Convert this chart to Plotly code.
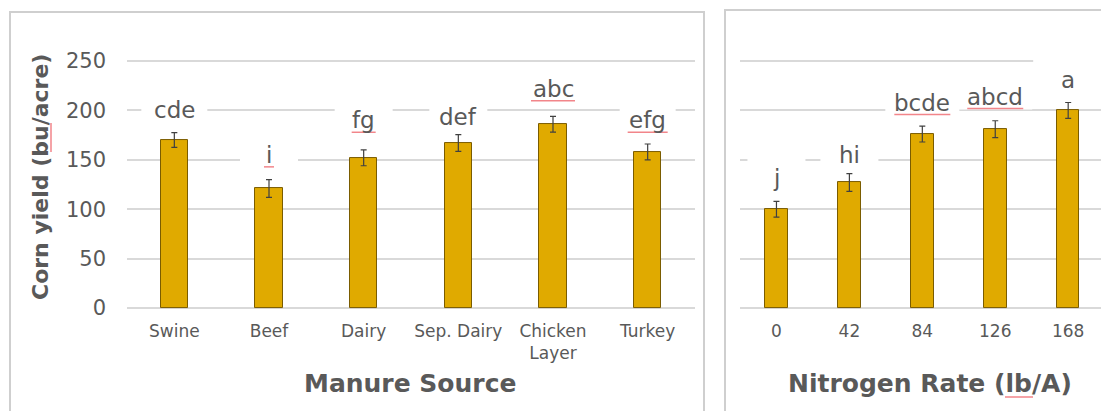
import plotly.graph_objects as go

# ---- data ----
manure_sources = ["Swine", "Beef", "Dairy", "Sep. Dairy", "Chicken<br>Layer", "Turkey"]
manure_yield = [170, 121, 152, 167, 186, 158]
manure_err = [7.5, 9, 8, 8.5, 8, 8]
manure_letters = ["cde", "i", "fg", "def", "abc", "efg"]

n_rates = ["0", "42", "84", "126", "168"]
n_yield = [100, 127, 176, 181, 200]
n_err = [8, 9, 8, 8.5, 8]
n_letters = ["j", "hi", "bcde", "abcd", "a"]

y_ticks = [0, 50, 100, 150, 200, 250]

# ---- letter placement (y in axis units) and white mask boxes (px) ----
manure_label_y = [200, 155, 190, 193, 222, 190]
manure_mask_w = [66, 58, 58, 58, 60, 56]
manure_mask_h = [26, 26, 26, 26, 26, 26]
n_label_y = [132, 155, 208, 214, 231]
n_mask_w = [58, 58, 74, 74, 70]
n_mask_h = [48, 26, 26, 26, 48]

W, H = 1101, 411
FONT = "DejaVu Sans, Verdana, sans-serif"
GREY = "#595959"
GRID = "#d9d9d9"
BAR = "#E0AA00"
BAR_EDGE = "#7a5c00"


def px_x(p):
    return p / W


def px_y(p):
    return 1 - p / H


fig = go.Figure()

fig.add_trace(go.Bar(
    x=list(range(len(manure_sources))), y=manure_yield,
    marker=dict(color=BAR, line=dict(color=BAR_EDGE, width=1)),
    error_y=dict(type="data", array=manure_err, color="#404040", thickness=1.2, width=3),
    width=0.29, xaxis="x", yaxis="y", showlegend=False,
))
fig.add_trace(go.Bar(
    x=list(range(len(n_rates))), y=n_yield,
    marker=dict(color=BAR, line=dict(color=BAR_EDGE, width=1)),
    error_y=dict(type="data", array=n_err, color="#404040", thickness=1.2, width=3),
    width=0.31, xaxis="x2", yaxis="y2", showlegend=False,
))

# y scale: 0 at 308 px, 250 at 61 px; range padded so the edge gridlines are drawn
Y_LO, Y_HI = -5, 255
PX_PER_UNIT = (308 - 61) / 250
y_dom = [px_y(308 - Y_LO * PX_PER_UNIT), px_y(308 - Y_HI * PX_PER_UNIT)]
common_y = dict(range=[Y_LO, Y_HI], tickvals=y_ticks, showgrid=True, gridcolor=GRID,
                gridwidth=1.5, zeroline=False, showline=False, fixedrange=True,
                automargin=False)
cat_font = dict(size=17, color=GREY)

fig.update_layout(
    width=W, height=H,
    margin=dict(l=0, r=0, t=0, b=0),
    paper_bgcolor="white", plot_bgcolor="white",
    font=dict(family=FONT, color=GREY),
    bargap=0,
    xaxis=dict(domain=[px_x(127), px_x(695)], range=[-0.5, 5.5],
               tickvals=list(range(len(manure_sources))), ticktext=manure_sources,
               tickfont=cat_font, showgrid=False, zeroline=False, automargin=False,
               showline=False, ticks="", ticklabelstandoff=6),
    yaxis=dict(domain=y_dom, anchor="x", tickfont=dict(size=21, color=GREY),
               ticklabelstandoff=20, **common_y),
    xaxis2=dict(domain=[px_x(740), 1], range=[-0.5, 4.45],
                tickvals=list(range(len(n_rates))), ticktext=n_rates,
                tickfont=cat_font, showgrid=False, zeroline=False, automargin=False,
                showline=False, ticks="", ticklabelstandoff=6, anchor="y2"),
    yaxis2=dict(domain=y_dom, anchor="x2", showticklabels=False, **common_y),
)

annotations = []
shapes = []


def add_letters(letters, ys, widths, heights, xr, yr):
    for i, (t, yv, w, h) in enumerate(zip(letters, ys, widths, heights)):
        # white box hiding the gridlines behind the letter, drawn under the bars
        shapes.append(dict(type="rect", xref=xr, yref=yr,
                           xsizemode="pixel", xanchor=i, x0=-w / 2, x1=w / 2,
                           ysizemode="pixel", yanchor=yv, y0=-h / 2, y1=h / 2,
                           fillcolor="white", line=dict(width=0), layer="between"))
        annotations.append(dict(x=i, y=yv, xref=xr, yref=yr, text=t, showarrow=False,
                                font=dict(size=23, color=GREY),
                                xanchor="center", yanchor="middle"))


add_letters(manure_letters, manure_label_y, manure_mask_w, manure_mask_h, "x", "y")
add_letters(n_letters, n_label_y, n_mask_w, n_mask_h, "x2", "y2")

# axis titles
title_common = dict(xref="paper", yref="paper", showarrow=False,
                    xanchor="center", yanchor="middle")
annotations.append(dict(x=px_x(40), y=px_y(177), text="<b>Corn yield (bu/acre)</b>",
                        textangle=-90, font=dict(size=22, color=GREY), **title_common))
annotations.append(dict(x=px_x(410), y=px_y(383), text="<b>Manure Source</b>",
                        font=dict(size=25, color=GREY), **title_common))
annotations.append(dict(x=px_x(930), y=px_y(383), text="<b>Nitrogen Rate (lb/A)</b>",
                        font=dict(size=25, color=GREY), **title_common))

# panel frames
shapes.append(dict(type="rect", xref="paper", yref="paper",
                   x0=px_x(10), x1=px_x(704), y0=-0.05, y1=px_y(12),
                   line=dict(color="#cfcfcf", width=2), fillcolor="rgba(0,0,0,0)",
                   layer="below"))
shapes.append(dict(type="rect", xref="paper", yref="paper",
                   x0=px_x(725), x1=1.05, y0=-0.05, y1=px_y(10),
                   line=dict(color="#cfcfcf", width=2), fillcolor="rgba(0,0,0,0)",
                   layer="below"))

# red spell-check underlines
SQ = dict(color="#f2858a", width=1.5)
squiggles = [("x", "y", 1, 155, 5), ("x", "y", 2, 190, 12), ("x", "y", 4, 222, 22),
             ("x", "y", 5, 190, 20), ("x2", "y2", 2, 208, 28), ("x2", "y2", 3, 214, 28)]
for xr, yr, xi, yv, half in squiggles:
    shapes.append(dict(type="line", xref=xr, yref=yr, xsizemode="pixel", xanchor=xi,
                       x0=-half, x1=half, ysizemode="pixel", yanchor=yv, y0=-12, y1=-12,
                       line=SQ, layer="above"))
shapes.append(dict(type="line", xref="paper", yref="paper", x0=px_x(51), x1=px_x(51),
                   y0=px_y(152), y1=px_y(123), line=SQ))
shapes.append(dict(type="line", xref="paper", yref="paper", x0=px_x(1005), x1=px_x(1033),
                   y0=px_y(397), y1=px_y(397), line=SQ))

fig.update_layout(annotations=annotations, shapes=shapes)

fig.write_html("out.html")
